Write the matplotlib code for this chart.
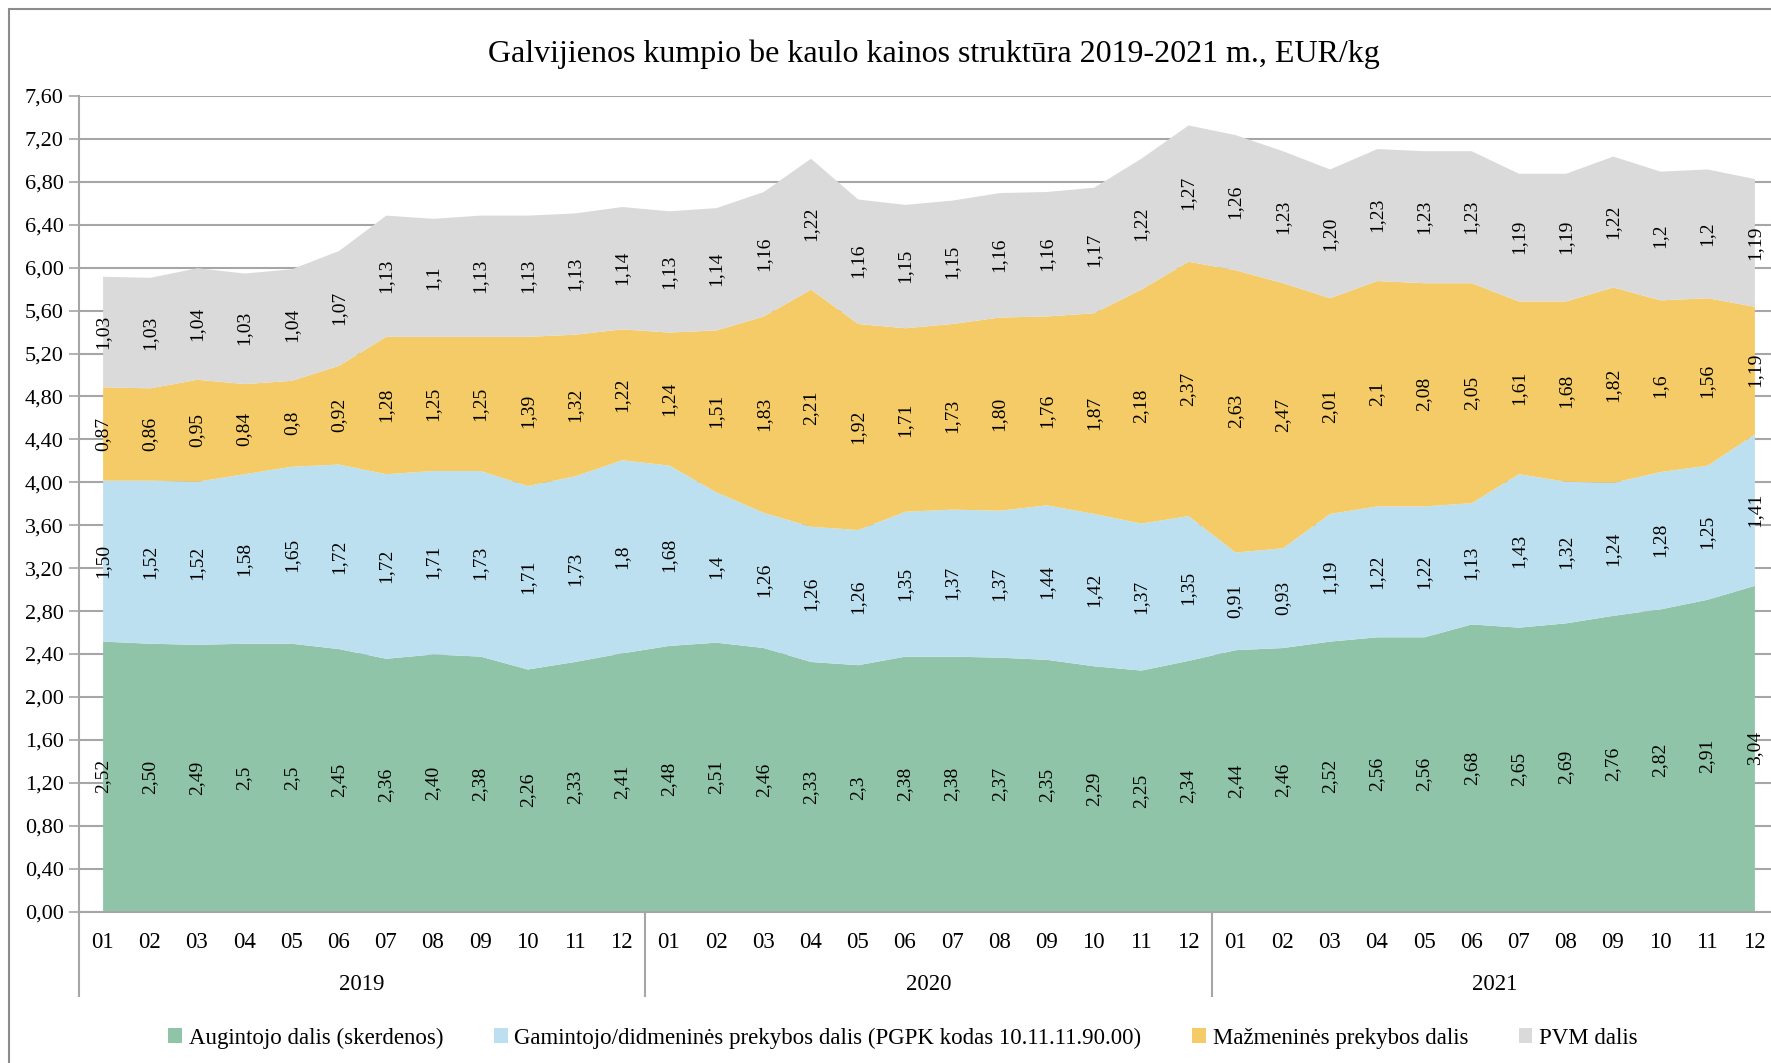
import matplotlib
matplotlib.use("Agg")
import matplotlib.pyplot as plt
from matplotlib.patches import Patch, Rectangle
import matplotlib.transforms as mtransforms
import numpy as np

plt.rcParams['font.family'] = ['Liberation Serif', 'DejaVu Serif']

months = ['01', '02', '03', '04', '05', '06', '07', '08', '09', '10', '11', '12'] * 3
years = ['2019', '2020', '2021']

augintojo = [2.52, 2.50, 2.49, 2.5, 2.5, 2.45, 2.36, 2.40, 2.38, 2.26, 2.33, 2.41,
             2.48, 2.51, 2.46, 2.33, 2.3, 2.38, 2.38, 2.37, 2.35, 2.29, 2.25, 2.34,
             2.44, 2.46, 2.52, 2.56, 2.56, 2.68, 2.65, 2.69, 2.76, 2.82, 2.91, 3.04]
augintojo_lbl = ['2,52', '2,50', '2,49', '2,5', '2,5', '2,45', '2,36', '2,40', '2,38', '2,26', '2,33', '2,41',
                 '2,48', '2,51', '2,46', '2,33', '2,3', '2,38', '2,38', '2,37', '2,35', '2,29', '2,25', '2,34',
                 '2,44', '2,46', '2,52', '2,56', '2,56', '2,68', '2,65', '2,69', '2,76', '2,82', '2,91', '3,04']

gamintojo = [1.50, 1.52, 1.52, 1.58, 1.65, 1.72, 1.72, 1.71, 1.73, 1.71, 1.73, 1.8,
             1.68, 1.4, 1.26, 1.26, 1.26, 1.35, 1.37, 1.37, 1.44, 1.42, 1.37, 1.35,
             0.91, 0.93, 1.19, 1.22, 1.22, 1.13, 1.43, 1.32, 1.24, 1.28, 1.25, 1.41]
gamintojo_lbl = ['1,50', '1,52', '1,52', '1,58', '1,65', '1,72', '1,72', '1,71', '1,73', '1,71', '1,73', '1,8',
                 '1,68', '1,4', '1,26', '1,26', '1,26', '1,35', '1,37', '1,37', '1,44', '1,42', '1,37', '1,35',
                 '0,91', '0,93', '1,19', '1,22', '1,22', '1,13', '1,43', '1,32', '1,24', '1,28', '1,25', '1,41']

mazmenine = [0.87, 0.86, 0.95, 0.84, 0.8, 0.92, 1.28, 1.25, 1.25, 1.39, 1.32, 1.22,
             1.24, 1.51, 1.83, 2.21, 1.92, 1.71, 1.73, 1.80, 1.76, 1.87, 2.18, 2.37,
             2.63, 2.47, 2.01, 2.1, 2.08, 2.05, 1.61, 1.68, 1.82, 1.6, 1.56, 1.19]
mazmenine_lbl = ['0,87', '0,86', '0,95', '0,84', '0,8', '0,92', '1,28', '1,25', '1,25', '1,39', '1,32', '1,22',
                 '1,24', '1,51', '1,83', '2,21', '1,92', '1,71', '1,73', '1,80', '1,76', '1,87', '2,18', '2,37',
                 '2,63', '2,47', '2,01', '2,1', '2,08', '2,05', '1,61', '1,68', '1,82', '1,6', '1,56', '1,19']

pvm = [1.03, 1.03, 1.04, 1.03, 1.04, 1.07, 1.13, 1.1, 1.13, 1.13, 1.13, 1.14,
       1.13, 1.14, 1.16, 1.22, 1.16, 1.15, 1.15, 1.16, 1.16, 1.17, 1.22, 1.27,
       1.26, 1.23, 1.20, 1.23, 1.23, 1.23, 1.19, 1.19, 1.22, 1.2, 1.2, 1.19]
pvm_lbl = ['1,03', '1,03', '1,04', '1,03', '1,04', '1,07', '1,13', '1,1', '1,13', '1,13', '1,13', '1,14',
           '1,13', '1,14', '1,16', '1,22', '1,16', '1,15', '1,15', '1,16', '1,16', '1,17', '1,22', '1,27',
           '1,26', '1,23', '1,20', '1,23', '1,23', '1,23', '1,19', '1,19', '1,22', '1,2', '1,2', '1,19']

names = ['Augintojo dalis (skerdenos)',
         'Gamintojo/didmeninės prekybos dalis (PGPK kodas 10.11.11.90.00)',
         'Mažmeninės prekybos dalis',
         'PVM dalis']
colors = ['#8FC4A8', '#BDE0F0', '#F4CB66', '#DADADA']

fig = plt.figure(figsize=(17.71, 10.63), dpi=100)
ax = fig.add_axes([79 / 1771, 1 - 911.5 / 1063, 1699 / 1771, 815.5 / 1063])

x = np.arange(len(months))
series = [augintojo, gamintojo, mazmenine, pvm]
labels = [augintojo_lbl, gamintojo_lbl, mazmenine_lbl, pvm_lbl]
base = np.zeros(len(x))
for vals, lbls, col in zip(series, labels, colors):
    top = base + np.array(vals)
    ax.fill_between(x, base, top, color=col, linewidth=0, zorder=2)
    for i in x:
        ax.text(i, base[i] + vals[i] / 2, lbls[i], rotation=90, ha='center', va='center',
                fontsize=14, zorder=4)
    base = top

ax.set_xlim(-0.5, 35.5)
ax.set_ylim(0, 7.6)
yt = np.arange(0, 7.61, 0.4)
ax.set_yticks(yt)
ax.set_yticklabels([f'{v:.2f}'.replace('.', ',') for v in yt], fontsize=16)
ax.grid(axis='y', color='#A6A6A6', linewidth=1.5, zorder=1)
ax.set_axisbelow(True)
ax.tick_params(axis='y', length=7, width=1.2, color='#A6A6A6', pad=4)
ax.set_xticks(x)
ax.set_xticklabels(months, fontsize=16.5)
ax.tick_params(axis='x', length=0, pad=15)
for s in ['top', 'right']:
    ax.spines[s].set_visible(False)
for s in ['left', 'bottom']:
    ax.spines[s].set_color('#A6A6A6')
    ax.spines[s].set_linewidth(1.5)

trans = mtransforms.blended_transform_factory(ax.transData, ax.transAxes)
for k, yr in enumerate(years):
    ax.text(k * 12 + 5.5, -0.09, yr, transform=trans, ha='center', va='center', fontsize=16.5)
for xs in [-0.5, 11.5, 23.5]:
    ax.plot([xs, xs], [0, -0.104], transform=trans, color='#A6A6A6', lw=1.5, clip_on=False)

fig.text(934 / 1771, 1 - 54 / 1063, 'Galvijienos kumpio be kaulo kainos struktūra 2019-2021 m., EUR/kg',
         ha='center', va='center', fontsize=23)

handles = [Patch(facecolor=c, edgecolor='none', label=n) for c, n in zip(colors, names)]
fig.legend(handles=handles, loc='center', bbox_to_anchor=(903 / 1771, 1 - 1038 / 1063), ncol=4,
           frameon=False, fontsize=16.5, handlelength=0.6, handleheight=0.6, handletextpad=0.3,
           columnspacing=2.2)

fig.patches.append(Rectangle((9 / 1771, -0.1), 1.2, 1.1 - 9 / 1063, transform=fig.transFigure,
                             fill=False, edgecolor='#8C8C8C', linewidth=1.5))

fig.savefig('out.png', dpi=100)
